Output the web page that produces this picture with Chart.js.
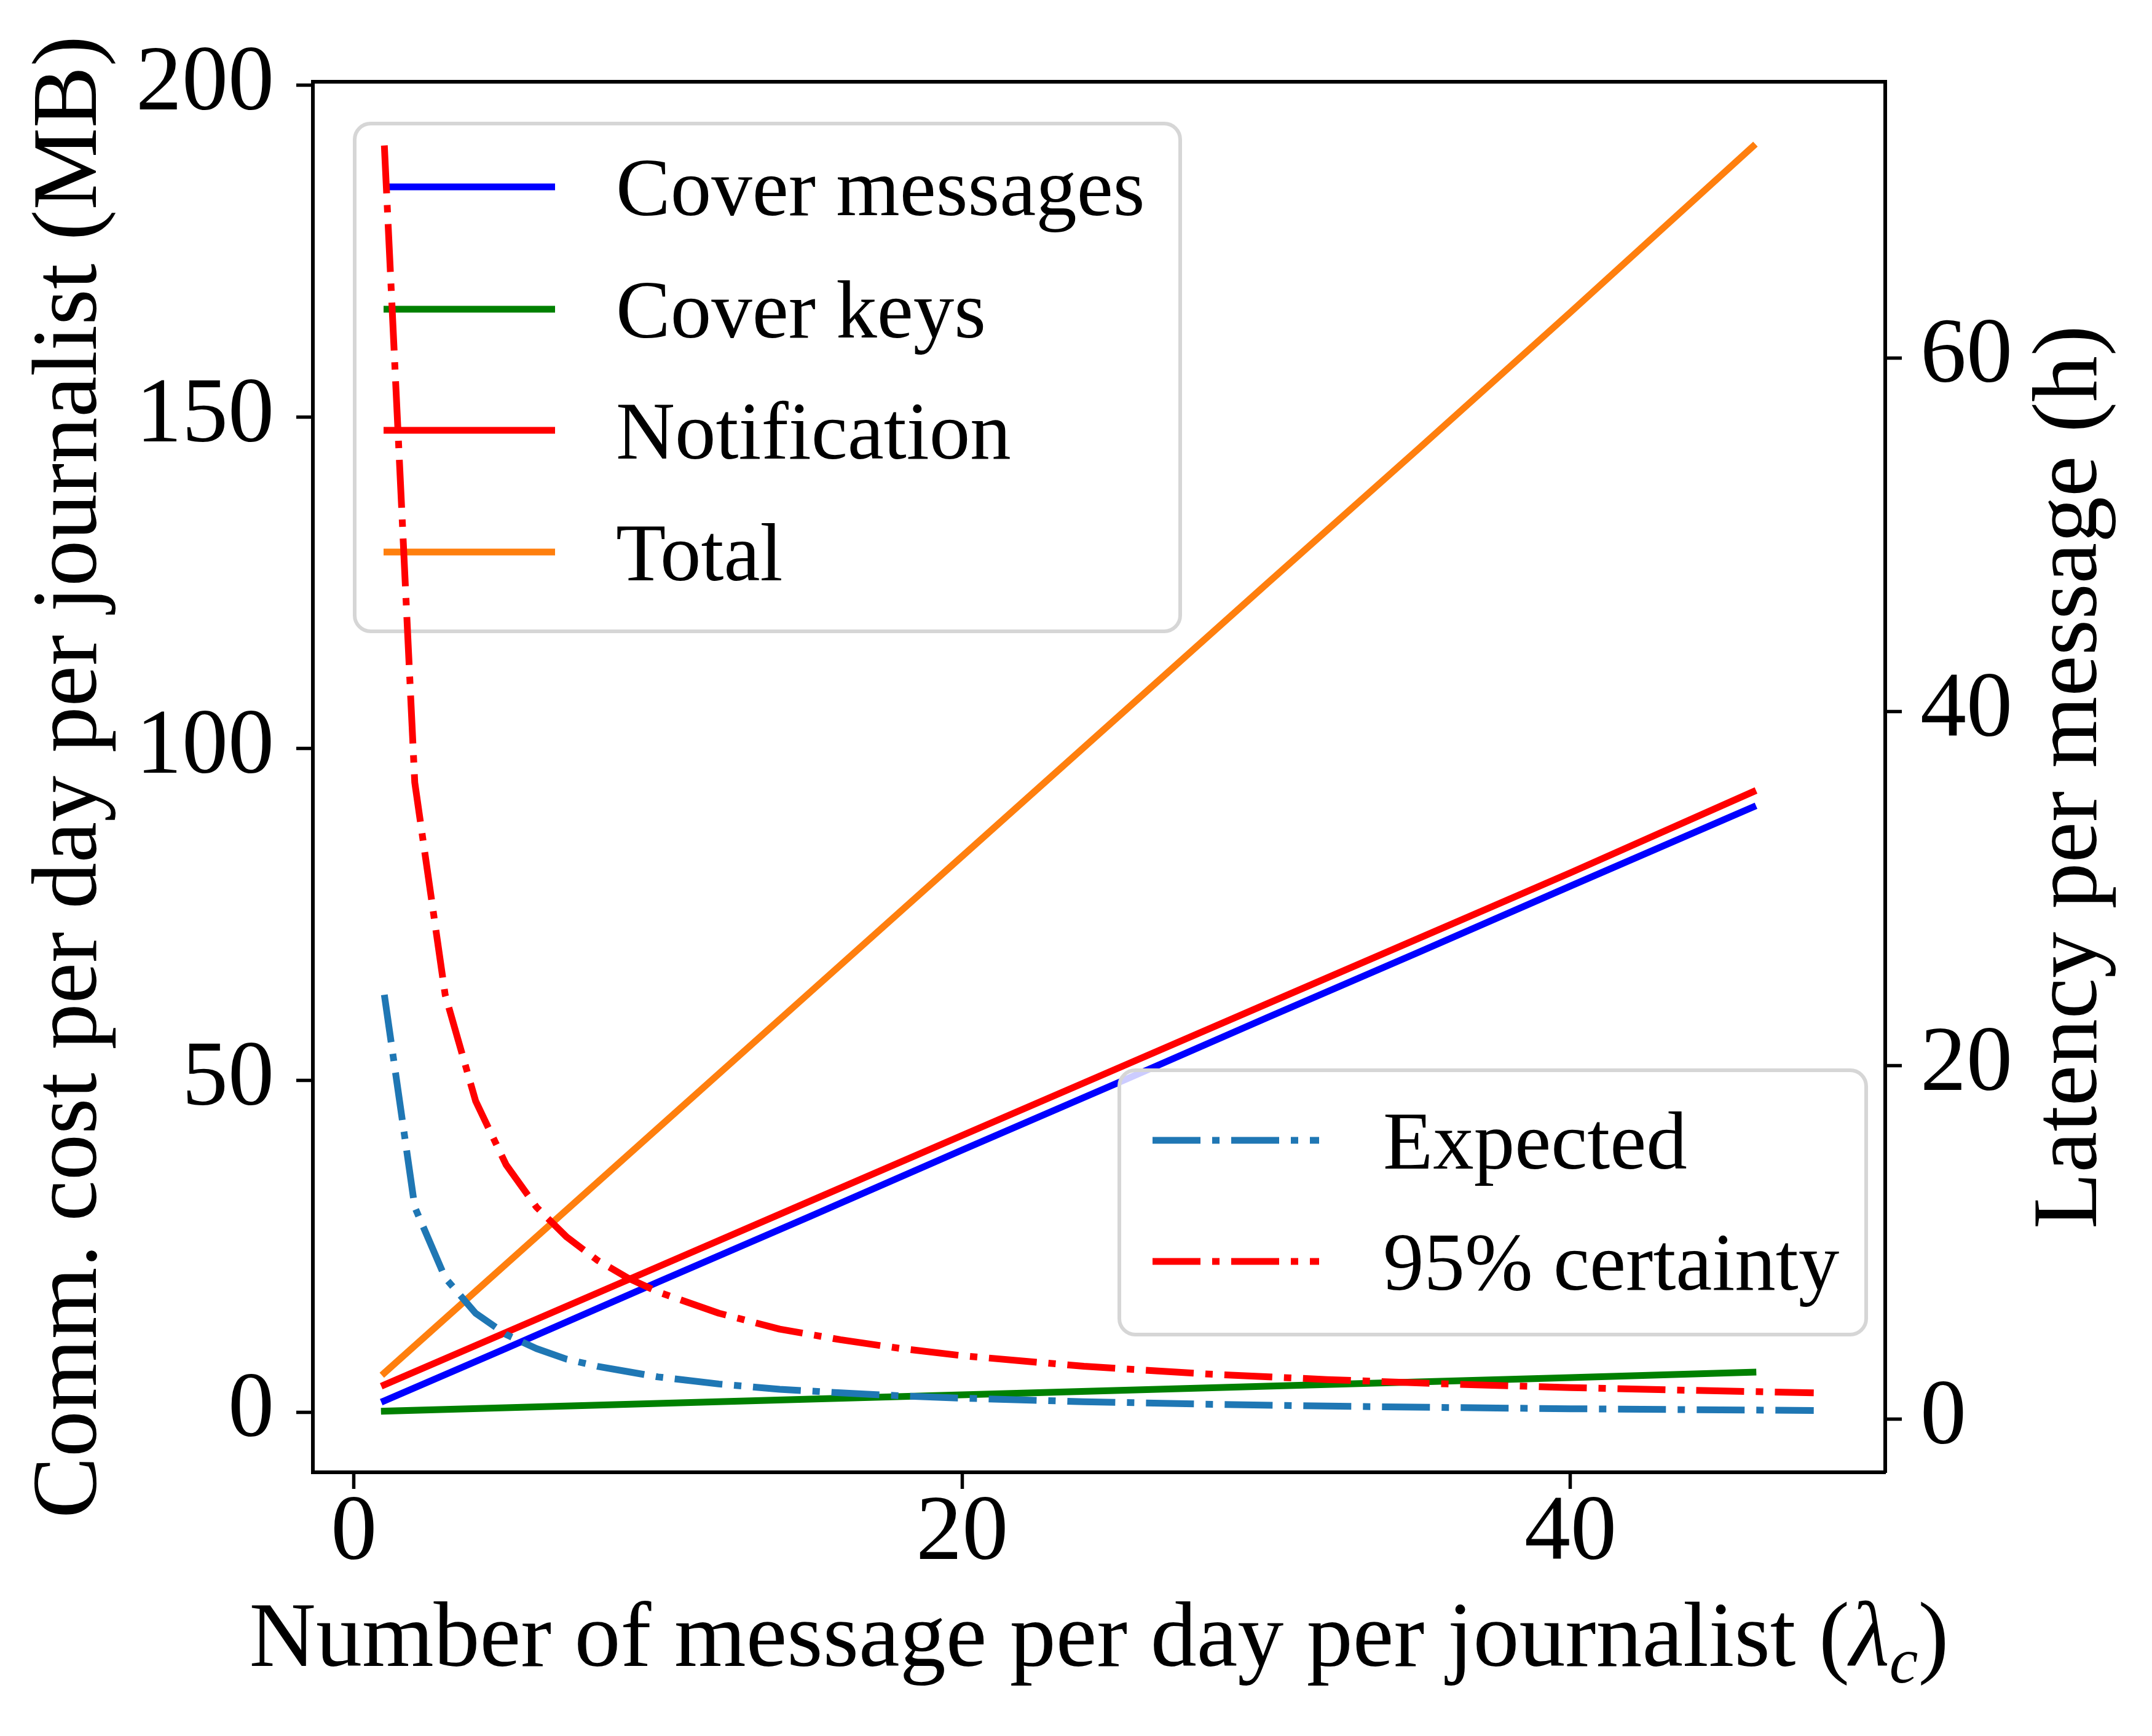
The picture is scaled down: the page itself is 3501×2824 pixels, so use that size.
<!DOCTYPE html>
<html>
<head>
<meta charset="utf-8">
<script src="https://cdn.jsdelivr.net/npm/chart.js@4.4.1/dist/chart.umd.min.js"></script>
<style>
html, body { margin: 0; padding: 0; background: #ffffff; }
canvas { display: block; }
</style>
</head>
<body>
<canvas id="c" width="3501" height="2824" style="width:3501px;height:2824px"></canvas>
<script>
// ---------- data ----------
const costX = [1, 5, 10, 15, 20, 25, 30, 35, 40, 46];
const coverMessages = [1.7, 9.6, 19.6, 29.5, 39.5, 49.4, 59.4, 69.3, 79.3, 91.2];
const coverKeys = [0.13, 0.65, 1.3, 1.95, 2.6, 3.25, 3.9, 4.55, 5.2, 6.0];
const notification = [4.1, 12.0, 21.9, 31.8, 41.7, 51.6, 61.5, 71.4, 81.3, 93.5];
const totalCost = [5.9, 22.3, 42.8, 63.3, 83.8, 104.3, 124.8, 145.2, 165.8, 190.8];

const latencyX = [1, 2, 3, 4, 5, 6, 7, 8, 9, 10, 12, 14, 16, 18, 20, 24, 28, 32, 36, 40, 44, 48];
const expectedLatency = [24, 12, 8, 6, 4.8, 4, 3.4, 3, 2.7, 2.4, 2, 1.7, 1.5, 1.33, 1.2, 1.0, 0.86, 0.75, 0.67, 0.6, 0.55, 0.5];
const certaintyLatency = [72, 36, 24, 18, 14.4, 12, 10.3, 9, 8, 7.2, 6, 5.1, 4.5, 4.0, 3.6, 3.0, 2.57, 2.25, 2.0, 1.8, 1.64, 1.5];

const xTicks = [0, 20, 40];
const costTicks = [0, 50, 100, 150, 200];
const latencyTicks = [0, 20, 40, 60];

const xTitleMain = "Number of message per day per journalist (";
const xTitleSymbol = "λ";
const xTitleSub = "c";
const xTitleEnd = ")";
const leftTitle = "Comm. cost per day per journalist (MB)";
const rightTitle = "Latency per message (h)";

// ---------- styles ----------
const FONT = '"Liberation Serif", "Times New Roman", serif';
const TICK_PX = 150;
const TITLE_PX = 150;
const LEG_PX = 133;
const LW = 11;
const DASHDOT = [78, 19, 12, 19];

const pts = (xs, ys) => xs.map((x, i) => ({ x: x, y: ys[i] }));

const datasets = [
  { label: "Cover messages", data: pts(costX, coverMessages), borderColor: "#0000ff", yAxisID: "y", order: 5, borderWidth: LW, borderCapStyle: "square" },
  { label: "Cover keys", data: pts(costX, coverKeys), borderColor: "#008000", yAxisID: "y", order: 4, borderWidth: LW, borderCapStyle: "square" },
  { label: "Notification", data: pts(costX, notification), borderColor: "#ff0000", yAxisID: "y", order: 3, borderWidth: LW, borderCapStyle: "square" },
  { label: "Total", data: pts(costX, totalCost), borderColor: "#ff7f0e", yAxisID: "y", order: 2, borderWidth: LW, borderCapStyle: "square" },
  { label: "Expected", data: pts(latencyX, expectedLatency), borderColor: "#1f77b4", yAxisID: "y2", order: 1, borderWidth: LW, borderDash: DASHDOT, borderCapStyle: "butt" },
  { label: "95% certainty", data: pts(latencyX, certaintyLatency), borderColor: "#ff0000", yAxisID: "y2", order: 0, borderWidth: LW, borderDash: DASHDOT, borderCapStyle: "butt" }
];
datasets.forEach(d => { d.pointRadius = 0; d.tension = 0; d.fill = false; d.borderJoinStyle = "round"; });

const LEGENDS = [
  { items: [0, 1, 2, 3], box: { x: 577, y: 201, w: 1343, h: 826 }, rows: [304, 503, 700, 898], lineX0: 624, lineX1: 903, textX: 1002 },
  { items: [4, 5], box: { x: 1821, y: 1741, w: 1215, h: 430 }, rows: [1855, 2052], lineX0: 1875, lineX1: 2146, textX: 2250 }
];

function roundRectPath(ctx, x, y, w, h, r) {
  ctx.beginPath();
  ctx.moveTo(x + r, y);
  ctx.lineTo(x + w - r, y);
  ctx.arcTo(x + w, y, x + w, y + r, r);
  ctx.lineTo(x + w, y + h - r);
  ctx.arcTo(x + w, y + h, x + w - r, y + h, r);
  ctx.lineTo(x + r, y + h);
  ctx.arcTo(x, y + h, x, y + h - r, r);
  ctx.lineTo(x, y + r);
  ctx.arcTo(x, y, x + r, y, r);
  ctx.closePath();
}

function drawLegend(chart, L) {
  const ctx = chart.ctx;
  ctx.save();
  roundRectPath(ctx, L.box.x, L.box.y, L.box.w, L.box.h, 26);
  ctx.fillStyle = "rgba(255,255,255,0.8)";
  ctx.fill();
  ctx.lineWidth = 6;
  ctx.strokeStyle = "#d6d6d6";
  ctx.stroke();
  L.items.forEach((di, k) => {
    const ds = chart.data.datasets[di];
    const y = L.rows[k];
    ctx.beginPath();
    ctx.setLineDash(ds.borderDash || []);
    ctx.lineCap = "butt";
    ctx.strokeStyle = ds.borderColor;
    ctx.lineWidth = LW;
    ctx.moveTo(L.lineX0, y);
    ctx.lineTo(L.lineX1, y);
    ctx.stroke();
    ctx.setLineDash([]);
    ctx.fillStyle = "#000000";
    ctx.font = LEG_PX + "px " + FONT;
    ctx.textAlign = "left";
    ctx.textBaseline = "alphabetic";
    ctx.fillText(ds.label, L.textX, y + 46);
  });
  ctx.restore();
}

const customPlugin = {
  id: "custom",
  afterDatasetDraw(chart, args) {
    if (args.index === 3) drawLegend(chart, LEGENDS[0]);
  },
  afterDatasetsDraw(chart) {
    const ctx = chart.ctx;
    const a = chart.chartArea;
    ctx.save();
    ctx.strokeStyle = "#000";
    ctx.lineWidth = 6;
    ctx.beginPath();
    ctx.moveTo(a.left - 3, a.top);
    ctx.lineTo(a.right + 3, a.top);
    ctx.stroke();
    ctx.restore();
    drawLegend(chart, LEGENDS[1]);
  },
  afterDraw(chart) {
    const ctx = chart.ctx;
    const a = chart.chartArea;
    // x-axis title with italic lambda and subscript c
    const cx = (a.left + a.right) / 2;
    const baseY = 2710;
    const fMain = TITLE_PX + "px " + FONT;
    const fIt = "italic " + TITLE_PX + "px " + FONT;
    const fSub = "italic " + Math.round(TITLE_PX * 0.7) + "px " + FONT;
    ctx.save();
    ctx.fillStyle = "#000";
    ctx.textBaseline = "alphabetic";
    ctx.textAlign = "left";
    ctx.font = fMain; const w1 = ctx.measureText(xTitleMain).width;
    ctx.font = fIt; const w2 = ctx.measureText(xTitleSymbol).width;
    ctx.font = fSub; const w3 = ctx.measureText(xTitleSub).width;
    ctx.font = fMain; const w4 = ctx.measureText(xTitleEnd).width;
    let x = cx - (w1 + w2 + w3 + w4) / 2;
    ctx.font = fMain; ctx.fillText(xTitleMain, x, baseY); x += w1;
    ctx.font = fIt; ctx.fillText(xTitleSymbol, x, baseY); x += w2;
    ctx.font = fSub; ctx.fillText(xTitleSub, x, baseY + TITLE_PX * 0.18); x += w3;
    ctx.font = fMain; ctx.fillText(xTitleEnd, x, baseY);
    ctx.restore();
    // right-axis title, reading bottom to top
    ctx.save();
    ctx.fillStyle = "#000";
    ctx.font = fMain;
    ctx.textAlign = "center";
    ctx.textBaseline = "alphabetic";
    ctx.translate(3410, (a.top + a.bottom) / 2);
    ctx.rotate(-Math.PI / 2);
    ctx.fillText(rightTitle, 0, 0);
    ctx.restore();
  }
};

const tickFont = { family: FONT, size: TICK_PX };
const gridCommon = { drawOnChartArea: false, drawTicks: true, tickLength: 27, tickWidth: 5.5, color: "#000000" };
const borderCommon = { display: true, width: 6, color: "#000000" };

Chart.defaults.font.family = FONT;
Chart.defaults.color = "#000000";

new Chart(document.getElementById("c"), {
  type: "line",
  data: { datasets: datasets },
  options: {
    responsive: false,
    animation: false,
    devicePixelRatio: 1,
    layout: { padding: { left: 0, right: 0, top: 133, bottom: 0 } },
    plugins: { legend: { display: false }, tooltip: { enabled: false }, title: { display: false } },
    scales: {
      x: {
        type: "linear", position: "bottom", min: -1.35, max: 50.35,
        afterBuildTicks: s => { s.ticks = xTicks.map(v => ({ value: v })); },
        afterFit: s => { s.height = 429; },
        ticks: { font: tickFont, padding: -15, maxRotation: 0, autoSkip: false, color: "#000" },
        grid: gridCommon, border: borderCommon,
        title: { display: false }
      },
      y: {
        type: "linear", position: "left", min: -9.08, max: 200.55,
        afterBuildTicks: s => { s.ticks = costTicks.map(v => ({ value: v })); },
        afterFit: s => { s.width = 509; },
        ticks: { font: tickFont, padding: 36, autoSkip: false, color: "#000" },
        grid: gridCommon, border: borderCommon,
        title: { display: true, text: leftTitle, font: { family: FONT, size: TITLE_PX }, padding: { top: 27, bottom: 0 }, color: "#000" }
      },
      y2: {
        type: "linear", position: "right", min: -2.99, max: 75.6,
        afterBuildTicks: s => { s.ticks = latencyTicks.map(v => ({ value: v })); },
        afterFit: s => { s.width = 434; },
        ticks: { font: tickFont, padding: 30, autoSkip: false, color: "#000" },
        grid: gridCommon, border: borderCommon,
        title: { display: false }
      }
    }
  },
  plugins: [customPlugin]
});
</script>
</body>
</html>
